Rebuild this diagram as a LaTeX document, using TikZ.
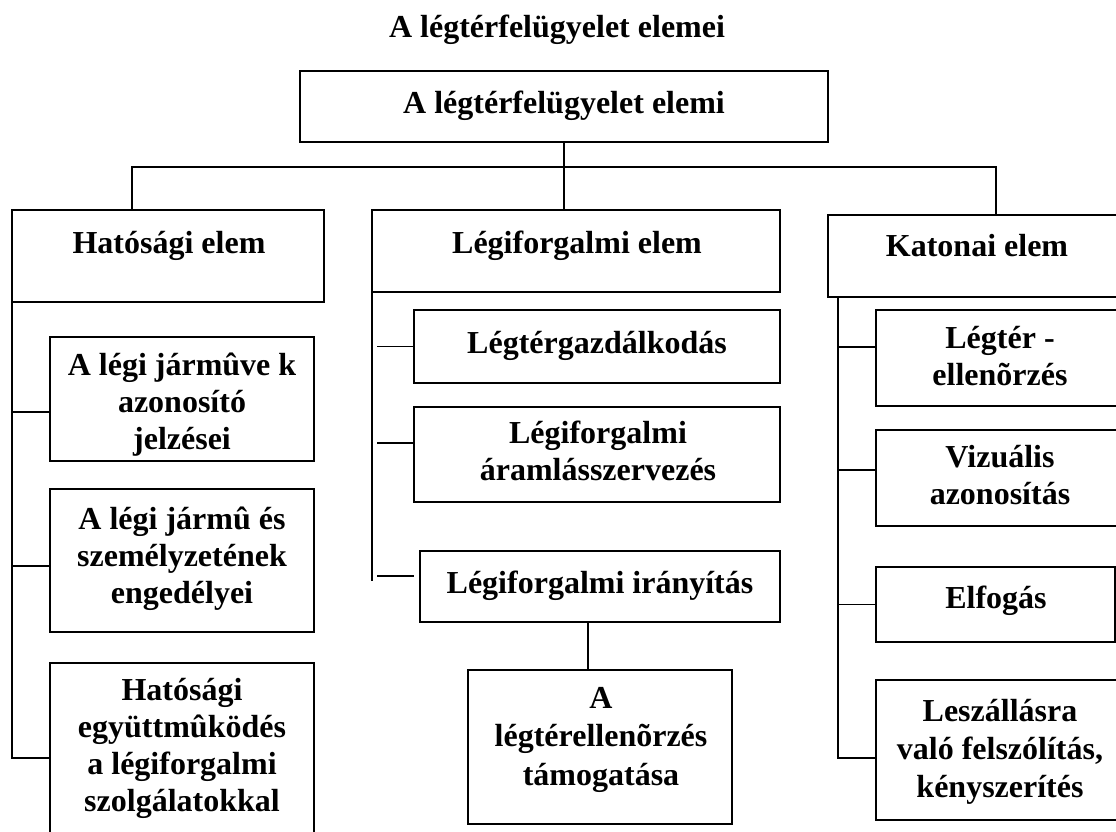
\documentclass[tikz,border=0pt]{standalone}
\usepackage{fontspec}
\setmainfont{Liberation Serif}
\begin{document}
\begin{tikzpicture}[x=1pt,y=-1pt]
\tikzset{
 box/.style={draw, line width=1.2pt, inner sep=0pt, outer sep=0pt, rectangle},
 txt/.style={font=\fontsize{32}{37}\selectfont\bfseries, align=center, inner sep=0pt, anchor=north},
 conn/.style={line width=1.2pt}
}
\useasboundingbox (0,0) rectangle (1116,832);
\fill[white] (0,0) rectangle (1116,832);

% title
\node[txt] (title) at (557,11.1) {\strut A légtérfelügyelet elemei};

% boxes
\node[box, minimum width=528pt, minimum height=71pt] (top) at (564,106.5) {};
\node[box, minimum width=312pt, minimum height=92pt] (hat) at (168,256) {};
\node[box, minimum width=408pt, minimum height=82pt] (leg) at (576,251) {};
\node[box, minimum width=294pt, minimum height=82pt] (kat) at (975,256) {};

\node[box, minimum width=264pt, minimum height=124pt] (h1) at (182,399) {};
\node[box, minimum width=264pt, minimum height=143pt] (h2) at (182,560.5) {};
\node[box, minimum width=264pt, minimum height=172pt] (h3) at (182,749) {};

\node[box, minimum width=366pt, minimum height=73pt] (l1) at (597,346.5) {};
\node[box, minimum width=366pt, minimum height=95pt] (l2) at (597,454.5) {};
\node[box, minimum width=360pt, minimum height=71pt] (l3) at (600,586.5) {};
\node[box, minimum width=264pt, minimum height=154pt] (l4) at (600,747) {};

\node[box, minimum width=246pt, minimum height=96pt] (k1) at (999,358) {};
\node[box, minimum width=246pt, minimum height=96pt] (k2) at (999,478) {};
\node[box, minimum width=239pt, minimum height=75pt] (k3) at (995.5,604.5) {};
\node[box, minimum width=246pt, minimum height=140pt] (k4) at (999,750) {};

% texts
\node[txt] (topT) at (564,87.1) {\strut A légtérfelügyelet elemi};
\node[txt] (hatT) at (169,227.1) {\strut Hatósági elem};
\node[txt] (legT) at (577,227.1) {\strut Légiforgalmi elem};
\node[txt] (katT) at (977,230.1) {\strut Katonai elem};

\node[txt] (h1T) at (182,349.1) {\strut A légi jármûve k\\azonosító\\jelzései};
\node[txt] (h2T) at (182,503.1) {\strut A légi jármû és\\személyzetének\\engedélyei};
\node[txt] (h3T) at (182,674.1) {\strut Hatósági\\együttmûködés\\a légiforgalmi\\szolgálatokkal};

\node[txt] (l1T) at (597,327.1) {\strut Légtérgazdálkodás};
\node[txt] (l2T) at (598,417.1) {\strut Légiforgalmi\\áramlásszervezés};
\node[txt] (l3T) at (600,567.1) {\strut Légiforgalmi irányítás};
\node[txt] (l4T) at (601,682.1) {\strut A\\[1pt]légtérellenõrzés\\[2pt]támogatása};

\node[txt] (k1T) at (1000,322.1) {\strut Légtér -\\ellenõrzés};
\node[txt] (k2T) at (1000,441.1) {\strut Vizuális\\azonosítás};
\node[txt] (k3T) at (996,582.1) {\strut Elfogás};
\node[txt] (k4T) at (1000,695.1) {\strut Leszállásra\\[1pt]való felszólítás,\\[1pt]kényszerítés};

% top connectors
\coordinate (bl) at (132,167);
\coordinate (br) at (996,167);
\draw[conn] (top.south) -- (top.south |- leg.north);
\draw[conn] (bl |- hat.north) -- (bl) -- (br) -- (br |- kat.north);

% Hatósági branch
\coordinate (h1in) at ([yshift=-13pt]h1.west);
\coordinate (h2in) at ([yshift=-5.5pt]h2.west);
\coordinate (h3in) at ([yshift=-9pt]h3.west);
\draw[conn] (hat.south west) |- (h3in);
\draw[conn] (h1in -| hat.west) -- (h1in);
\draw[conn] (h2in -| hat.west) -- (h2in);

% Légiforgalmi branch
\coordinate (lend) at (372,581);
\draw[conn] (leg.south west) -- (lend);
\draw[conn] ([xshift=-37pt]l1.west) -- (l1.west);
\draw[conn] ([xshift=-37pt,yshift=11.5pt]l2.west) -- ([yshift=11.5pt]l2.west);
\coordinate (l3end) at ([xshift=-6pt,yshift=10.5pt]l3.west);
\draw[conn] ([xshift=-43pt,yshift=10.5pt]l3.west) -- (l3end);
\coordinate (l34) at ([xshift=-12pt]l3.south);
\draw[conn] (l34) -- (l34 |- l4.north);

% Katonai branch
\coordinate (ktop) at (838,297);
\coordinate (k1in) at ([yshift=11pt]k1.west);
\coordinate (k2in) at ([yshift=8pt]k2.west);
\coordinate (k3in) at (k3.west);
\coordinate (k4in) at ([yshift=-8pt]k4.west);
\draw[conn] (ktop) |- (k4in);
\draw[conn] (k1in -| ktop) -- (k1in);
\draw[conn] (k2in -| ktop) -- (k2in);
\draw[conn] (k3in -| ktop) -- (k3in);
\end{tikzpicture}
\end{document}
